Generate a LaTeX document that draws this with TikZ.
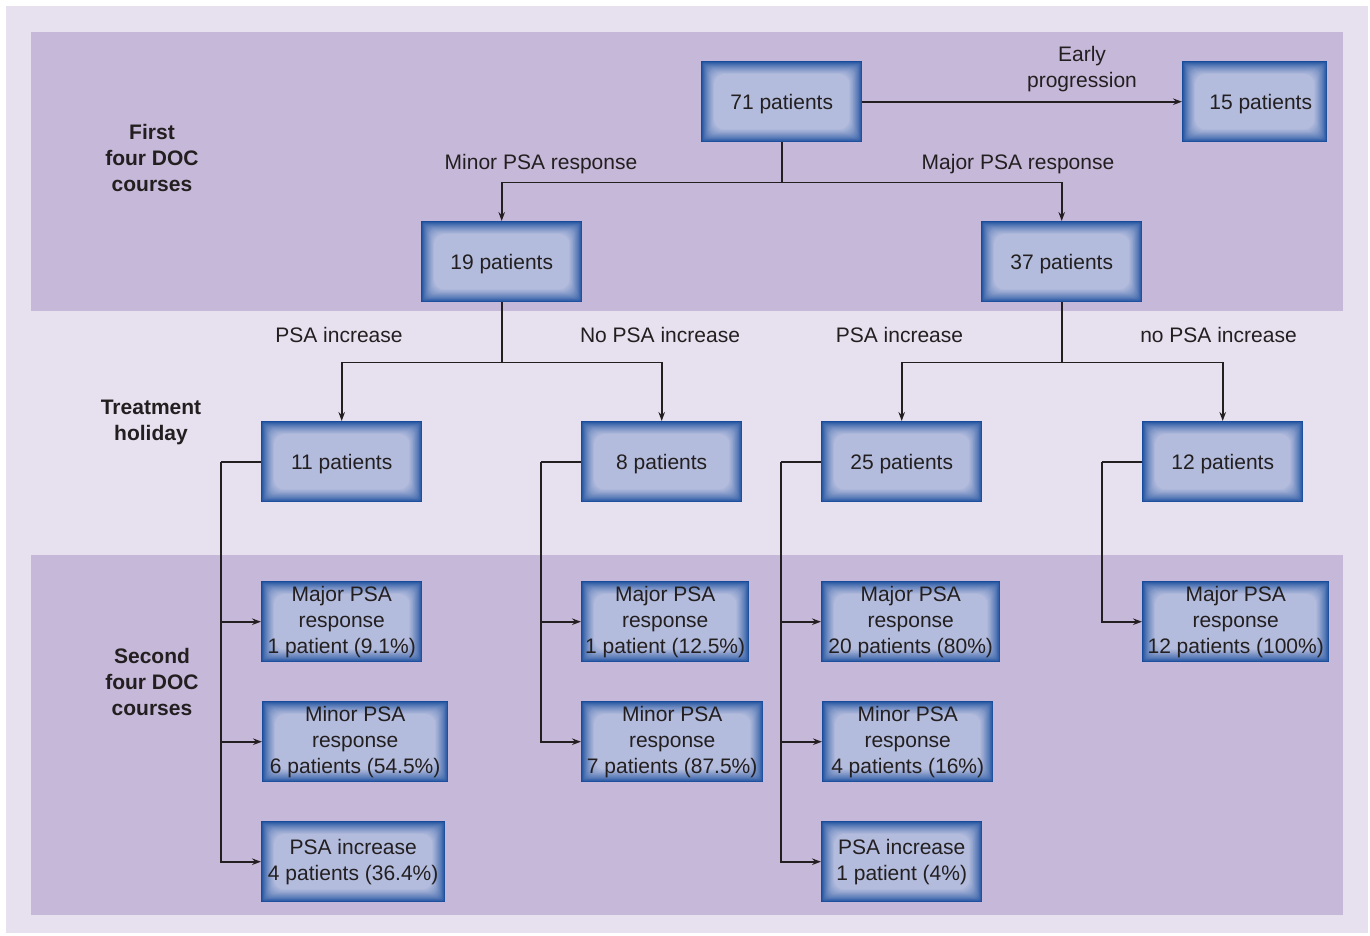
\documentclass[tikz,border=0pt]{standalone}
\usepackage{fontspec}
\setmainfont{Liberation Sans}
\usetikzlibrary{arrows.meta,calc}
\definecolor{bglight}{HTML}{E6E0EF}
\definecolor{band}{HTML}{C6B8D9}
\definecolor{boxblue}{HTML}{174B9C}
\definecolor{boxlight}{HTML}{B3BCDD}
\definecolor{txt}{HTML}{231F20}
\newcommand{\bodyfont}{\fontsize{21}{26}\selectfont}
\tikzset{
  box/.style={fill=boxblue, anchor=north west, minimum height=81pt, inner sep=0pt,
    align=center, font=\bodyfont, text=txt,
    execute at begin node={\rule{0pt}{19pt}},
    path picture={
      \foreach \k in {1,...,15}{
        \pgfmathtruncatemacro\mix{100*(\k/15)^0.75}
        \fill[boxlight!\mix!boxblue, rounded corners=\k*0.7pt]
          ($(path picture bounding box.south west)+(\k*0.85pt,\k*0.85pt)$) rectangle
          ($(path picture bounding box.north east)-(\k*0.85pt,\k*0.85pt)$);
      }}},
  lbl/.style={font=\bodyfont, text=txt, align=center, inner sep=0pt},
  side/.style={font=\bodyfont\bfseries, text=txt, align=center, inner sep=0pt},
  conn/.style={draw=txt, line width=1.6pt},
  arr/.style={conn, -{Stealth[length=9pt,width=6.5pt]}}
}
\begin{document}
\begin{tikzpicture}[x=1pt,y=-1pt]
\useasboundingbox (0,0) rectangle (1370,935);
\fill[white] (0,0) rectangle (1370,935);
\fill[bglight] (6,6) rectangle (1368,933);
\fill[band] (31,32) rectangle (1343,311);
\fill[band] (31,555) rectangle (1343,915);

% side labels
\node[side] (s1) at (152,157.5) {First\\four DOC\\courses};
\node[side] (s2) at (151,422) {Treatment\\holiday};
\node[side] (s3) at (152,681.5) {Second\\four DOC\\courses};

% boxes
\node[box, minimum width=161pt] (A) at (701,61) {71 patients};
\node[box, minimum width=145pt] (B) at (1182,61) {\hspace*{12pt}15 patients};
\node[box, minimum width=161pt] (C) at (421,221) {19 patients};
\node[box, minimum width=161pt] (D) at (981,221) {37 patients};
\node[box, minimum width=161pt] (E) at (261,421) {11 patients};
\node[box, minimum width=161pt] (F) at (581,421) {8 patients};
\node[box, minimum width=161pt] (G) at (821,421) {25 patients};
\node[box, minimum width=161pt] (H) at (1142,421) {12 patients};

\node[box, minimum width=161pt] (E1) at (261,581) {Major PSA\\response\\1 patient (9.1\%)};
\node[box, minimum width=186pt] (E2) at (262,701) {Minor PSA\\response\\6 patients (54.5\%)};
\node[box, minimum width=184pt] (E3) at (261,821) {PSA increase\\4 patients (36.4\%)};
\node[box, minimum width=168pt] (F1) at (581,581) {Major PSA\\response\\1 patient (12.5\%)};
\node[box, minimum width=182pt] (F2) at (581,701) {Minor PSA\\response\\7 patients (87.5\%)};
\node[box, minimum width=179pt] (G1) at (821,581) {Major PSA\\response\\20 patients (80\%)};
\node[box, minimum width=171pt] (G2) at (822,701) {Minor PSA\\response\\4 patients (16\%)};
\node[box, minimum width=161pt] (G3) at (821,821) {PSA increase\\1 patient (4\%)};
\node[box, minimum width=187pt] (H1) at (1142,581) {Major PSA\\response\\12 patients (100\%)};

% labels
\node[lbl] (l0) at (1082,69) {Early\\progression};
\node[lbl] (l1) at (541,164) {Minor PSA response};
\node[lbl] (l2) at (1018,164) {Major PSA response};
\node[lbl] (l3) at (339,335) {PSA increase};
\node[lbl] (l4) at (660,335) {No PSA increase};
\node[lbl] (l5) at (899.5,335) {PSA increase};
\node[lbl] (l6) at (1218.5,335) {no PSA increase};

% connectors
\draw[arr] (A.east) -- (B.west);
\draw[conn] (A.south) -- ++(0,40) coordinate (jA);
\draw[arr] (jA) -| (C.north);
\draw[arr] (jA) -| (D.north);
\draw[conn] (C.south) -- ++(0,60) coordinate (jC);
\draw[arr] (jC) -| (E.north);
\draw[arr] (jC) -| (F.north);
\draw[conn] (D.south) -- ++(0,60) coordinate (jD);
\draw[arr] (jD) -| (G.north);
\draw[arr] (jD) -| (H.north);

\draw[conn] (E.west) -- ++(-40,0) coordinate (jE);
\draw[arr] (jE) |- (E1.west);
\draw[arr] (jE) |- (E2.west);
\draw[arr] (jE) |- (E3.west);
\draw[conn] (F.west) -- ++(-40,0) coordinate (jF);
\draw[arr] (jF) |- (F1.west);
\draw[arr] (jF) |- (F2.west);
\draw[conn] (G.west) -- ++(-40,0) coordinate (jG);
\draw[arr] (jG) |- (G1.west);
\draw[arr] (jG) |- (G2.west);
\draw[arr] (jG) |- (G3.west);
\draw[conn] (H.west) -- ++(-40,0) coordinate (jH);
\draw[arr] (jH) |- (H1.west);
\end{tikzpicture}
\end{document}
